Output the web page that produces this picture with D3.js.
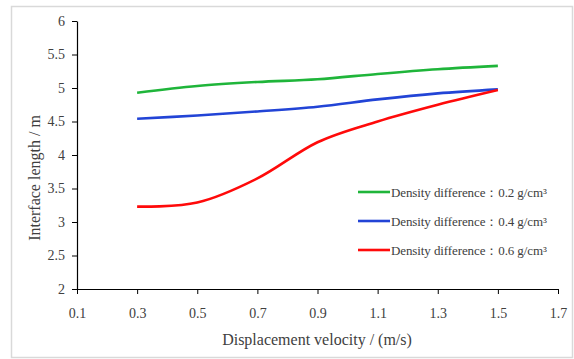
<!DOCTYPE html>
<html>
<head>
<meta charset="utf-8">
<script src="https://cdn.jsdelivr.net/npm/d3@7"></script>
<style>
  body { margin: 0; background: #fff; }
  svg { display: block; }
  svg text { font-family: "Liberation Serif", "DejaVu Serif", "Times New Roman", serif; }
</style>
</head>
<body>
<svg id="chart" width="574" height="359"></svg>
<script>
var velocity = [0.3, 0.5, 0.7, 0.9, 1.1, 1.3, 1.5];
var density02 = [4.93, 5.03, 5.09, 5.13, 5.21, 5.28, 5.33];
var density04 = [4.54, 4.59, 4.65, 4.72, 4.83, 4.92, 4.98];
var density06 = [3.23, 3.29, 3.65, 4.19, 4.5, 4.75, 4.97];
var seriesNames = ["Density difference\uff1a0.2 g/cm\u00b3", "Density difference\uff1a0.4 g/cm\u00b3", "Density difference\uff1a0.6 g/cm\u00b3"];
var seriesColors = ["#1fb53a", "#2244d6", "#ff0a0a"];
var xTicks = [0.1, 0.3, 0.5, 0.7, 0.9, 1.1, 1.3, 1.5, 1.7];
var yTicks = [2, 2.5, 3, 3.5, 4, 4.5, 5, 5.5, 6];

var svg = d3.select("#chart");

// outer frame
svg.append("rect")
   .attr("x", 11.5).attr("y", 6.5)
   .attr("width", 561).attr("height", 351)
   .style("fill", "none").style("stroke", "#d9d9d9").style("stroke-width", 1.5);

var x = d3.scaleLinear().domain([0.1, 1.7]).range([77, 558]);
var y = d3.scaleLinear().domain([2, 6]).range([289, 21]);

// axes
svg.append("g")
   .attr("transform", "translate(0,289)")
   .call(d3.axisBottom(x).tickValues(xTicks).tickSize(5).tickSizeOuter(0).tickFormat(d3.format(".1f")))
   .call(function(g) {
     g.attr("font-family", null).attr("font-size", null);
     g.select(".domain").style("stroke", "#000").style("stroke-width", 1.2);
     g.selectAll(".tick line").style("stroke", "#000");
     g.selectAll(".tick text").attr("dy", "1.5em").style("font-size", "14px").style("fill", "#404040");
   });

svg.append("g")
   .attr("transform", "translate(77,0)")
   .call(d3.axisLeft(y).tickValues(yTicks).tickSize(5).tickSizeOuter(0).tickFormat(function(d) { return d; }))
   .call(function(g) {
     g.attr("font-family", null).attr("font-size", null);
     g.select(".domain").style("stroke", "#000").style("stroke-width", 1.2);
     g.selectAll(".tick line").style("stroke", "#000");
     g.selectAll(".tick text").attr("x", -12).style("font-size", "14px").style("fill", "#404040");
   });

// axis titles
svg.append("text")
   .attr("x", 317).attr("y", 345)
   .attr("text-anchor", "middle")
   .style("font-size", "16px").style("fill", "#404040")
   .text("Displacement velocity / (m/s)");

svg.append("text")
   .attr("transform", "translate(40,178) rotate(-90)")
   .attr("text-anchor", "middle")
   .style("font-size", "16px").style("fill", "#404040")
   .text("Interface length / m");

// lines
var allSeries = [density02, density04, density06];
var line = d3.line()
   .x(function(d, i) { return x(velocity[i]); })
   .y(function(d) { return y(d); })
   .curve(d3.curveCatmullRom.alpha(0));

svg.selectAll(".series")
   .data(allSeries)
   .enter()
   .append("path")
   .attr("class", "series")
   .attr("d", line)
   .style("fill", "none")
   .style("stroke", function(d, i) { return seriesColors[i]; })
   .style("stroke-width", 2.6);

// legend
var legend = svg.selectAll(".legend")
   .data(seriesNames)
   .enter()
   .append("g")
   .attr("class", "legend")
   .attr("transform", function(d, i) { return "translate(358," + (192 + i * 29) + ")"; });

legend.append("line")
   .attr("x1", 0).attr("x2", 32)
   .style("stroke", function(d, i) { return seriesColors[i]; })
   .style("stroke-width", 2.6);

legend.append("text")
   .attr("x", 33).attr("y", 4.5)
   .style("font-size", "13px").style("fill", "#404040")
   .style("letter-spacing", "-0.1px")
   .text(function(d) { return d; });
</script>
</body>
</html>
